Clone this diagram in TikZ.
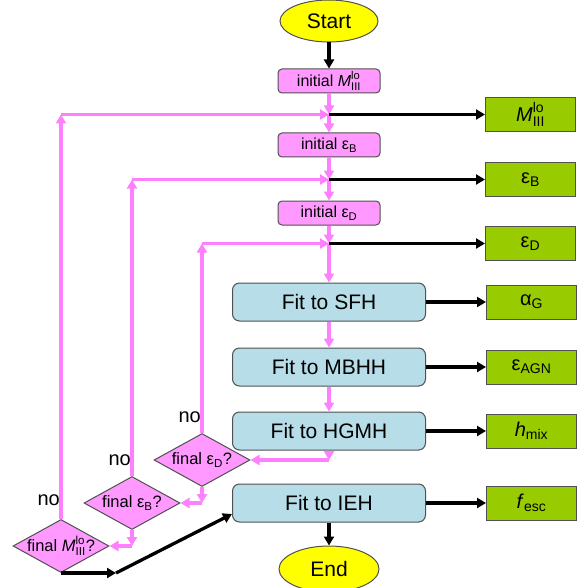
\documentclass[tikz,border=0pt]{standalone}
\usepackage{amsmath}
\usepackage{fontspec}
\setmainfont{Liberation Sans}
\usetikzlibrary{arrows.meta, positioning, shapes.geometric}
\definecolor{boxpink}{HTML}{FF99FF}
\definecolor{flowpink}{HTML}{FF80FF}
\definecolor{fitblue}{HTML}{B7DEE8}
\definecolor{outgreen}{HTML}{99CC00}
\definecolor{termyellow}{HTML}{FFFF00}
\definecolor{edge}{HTML}{505050}
\newcommand{\Mlo}{$\textit{M}^{\text{lo}}_{\text{III}}$}

\begin{document}
\begin{tikzpicture}[x=1pt, y=-1pt,
  term/.style={ellipse, draw=edge, line width=1pt, fill=termyellow,
               inner sep=0pt, font=\fontsize{21}{24}\selectfont},
  initbox/.style={draw=edge, line width=1pt, fill=boxpink, rounded corners=4pt,
                  minimum width=102pt, minimum height=24pt, inner sep=0pt,
                  font=\fontsize{16}{18}\selectfont},
  fitbox/.style={draw=edge, line width=1pt, fill=fitblue, rounded corners=7pt,
                 minimum width=193pt, minimum height=38pt, inner sep=0pt,
                 font=\fontsize{21}{24}\selectfont},
  outbox/.style={draw=edge, line width=1pt, fill=outgreen, minimum width=90pt,
                 minimum height=34pt, inner sep=0pt, font=\fontsize{20}{24}\selectfont},
  decide/.style={diamond, aspect=1.8, draw=edge, line width=1pt, fill=boxpink,
                 minimum width=96pt, minimum height=53pt, inner sep=0pt,
                 font=\fontsize{16.5}{18}\selectfont},
  nolabel/.style={anchor=south east, inner sep=1pt, font=\fontsize{20}{22}\selectfont},
  pinkarrow/.style={draw=flowpink, line width=3.3pt, -{Triangle[length=9pt, width=10pt]}},
  blackarrow/.style={draw=black, line width=3.3pt, -{Triangle[length=9pt, width=10pt]}}
]
  \useasboundingbox (0,0) rectangle (585,588);

  % main column
  \node[term, minimum width=98pt, minimum height=42pt] (start) at (329,21) {Start};
  \node[initbox, below=26pt of start] (iniM) {initial \Mlo};
  \node[initbox, below=39pt of iniM] (iniB) {initial ε\textsubscript{B}};
  \node[initbox, below=43pt of iniB] (iniD) {initial ε\textsubscript{D}};
  \node[fitbox, below=57pt of iniD] (sfh) {Fit to SFH};
  \node[fitbox, below=26pt of sfh] (mbhh) {Fit to MBHH};
  \node[fitbox, below=25pt of mbhh] (hgmh) {Fit to HGMH};
  \node[fitbox, below=33pt of hgmh] (ieh) {Fit to IEH};
  \node[term, minimum width=100pt, minimum height=46pt, below=23pt of ieh] (fin) {End};

  % junctions
  \coordinate[below=21pt of iniM.south] (j1);
  \coordinate[below=22pt of iniB.south] (j2);
  \coordinate[below=18pt of iniD.south] (j3);

  % results
  \node[outbox, right=156pt of j1] (outM) {\Mlo};
  \node[outbox, right=156pt of j2] (outB) {ε\textsubscript{B}};
  \node[outbox, right=156pt of j3] (outD) {ε\textsubscript{D}};
  \node[outbox, right=60pt of sfh] (outA) {α\textsubscript{G}};
  \node[outbox, right=60pt of mbhh] (outAGN) {ε\textsubscript{AGN}};
  \node[outbox, right=60pt of hgmh] (outH) {\textit{h}\textsubscript{mix}};
  \node[outbox, right=60pt of ieh] (outF) {\textit{f}\textsubscript{esc}};

  % decisions
  \node[decide] (dD) at (202,460) {final ε\textsubscript{D}?};
  \node[decide] (dB) at (132,503) {final ε\textsubscript{B}?};
  \node[decide, inner sep=-4pt] (dM) at (61,546) {final \Mlo?};
  \node[nolabel] (noD) at ([yshift=9pt]dD.north) {no};
  \node[nolabel] (noB) at ([yshift=9pt]dB.north) {no};
  \node[nolabel] (noM) at ([yshift=12pt]dM.north) {no};

  % corners
  \coordinate (upM) at (dM.north |- j1);
  \coordinate (upB) at (dB.north |- j2);
  \coordinate (upD) at (dD.north |- j3);
  \coordinate (hk1) at (hgmh.south |- dD.east);
  \coordinate (dk1) at (dD.south |- dB.east);
  \coordinate (dk2) at (dB.south |- dM.east);
  \coordinate[right=55pt of dM.south] (kink);

  % pink flow
  \draw[pinkarrow] (iniM) -- (j1);
  \draw[pinkarrow] (j1) -- (iniB);
  \draw[pinkarrow] (iniB) -- (j2);
  \draw[pinkarrow] (j2) -- (iniD);
  \draw[pinkarrow] (iniD) -- (j3);
  \draw[pinkarrow] (j3) -- (sfh);
  \draw[pinkarrow] (sfh) -- (mbhh);
  \draw[pinkarrow] (mbhh) -- (hgmh);
  \draw[pinkarrow] (hgmh) -- (hk1);
  \draw[pinkarrow] (hk1) -- (dD.east);
  \draw[pinkarrow] (dD) -- (dk1);
  \draw[pinkarrow] (dk1) -- (dB.east);
  \draw[pinkarrow] (dB) -- (dk2);
  \draw[pinkarrow] (dk2) -- (dM.east);

  % loops back
  \draw[pinkarrow] (dD) -- (upD);
  \draw[pinkarrow] (upD) -- (j3);
  \draw[pinkarrow] (dB) -- (upB);
  \draw[pinkarrow] (upB) -- (j2);
  \draw[pinkarrow] (dM) -- (upM);
  \draw[pinkarrow] (upM) -- (j1);

  % black arrows
  \draw[blackarrow] (start) -- (iniM);
  \draw[blackarrow] (j1) -- (outM);
  \draw[blackarrow] (j2) -- (outB);
  \draw[blackarrow] (j3) -- (outD);
  \draw[blackarrow] (sfh) -- (outA);
  \draw[blackarrow] (mbhh) -- (outAGN);
  \draw[blackarrow] (hgmh) -- (outH);
  \draw[blackarrow] (ieh) -- (outF);
  \draw[blackarrow] (ieh) -- (fin);
  \draw[blackarrow] (dM.south) -- (kink);
  \draw[blackarrow] (kink) -- ([yshift=-11pt]ieh.west);
\end{tikzpicture}
\end{document}
